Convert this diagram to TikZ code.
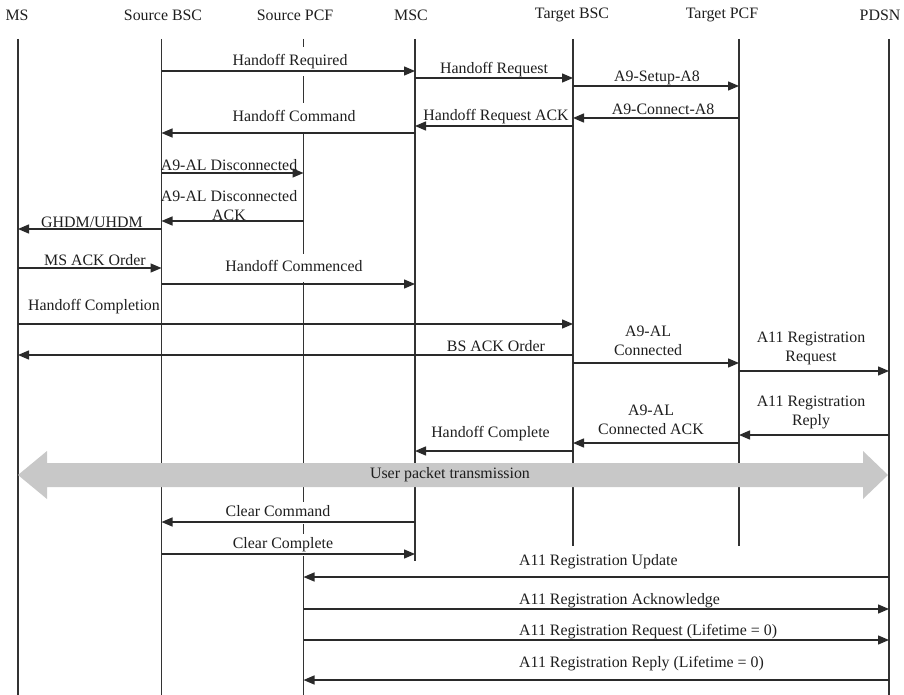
\documentclass[tikz,border=0pt]{standalone}
\usepackage{fontspec}
\setmainfont{Liberation Serif}
\usetikzlibrary{arrows.meta,calc}
\definecolor{lifegray}{HTML}{333333}
\definecolor{linegray}{HTML}{2A2A2A}
\definecolor{textgray}{HTML}{1E1E1E}
\definecolor{bandgray}{HTML}{C8C8C8}

% one message: name, label style, from, to, arrow y, label x, label y, text
\newcommand\seqmsg[8]{%
  \node[#2] (#1) at (#6,#7) {#8};
  \draw[msg] (#3 |- 0,#5) -- (#4 |- 0,#5);
}

\begin{document}
\begin{tikzpicture}[x=1pt,y=-1pt,
  font=\fontsize{15.9}{18.8}\selectfont,
  life/.style={draw=lifegray, line width=1.4pt},
  msg/.style={draw=linegray, line width=1.4pt, -{Triangle[length=11pt,width=9pt]}},
  lbl/.style={text=textgray, inner sep=1pt, align=center},
  lblw/.style={lbl, fill=white, inner xsep=2pt, text height=11pt, text depth=3.5pt, inner ysep=7pt},
  head/.style={text=textgray, inner sep=0pt},
]
\useasboundingbox (0,0) rectangle (904,695);

% entity headers
\node[head] (h-ms)   at (17,15)  {MS};
\node[head] (h-sbsc) at (163,15) {Source BSC};
\node[head] (h-spcf) at (295,15) {Source PCF};
\node[head] (h-msc)  at (411,15) {MSC};
\node[head] (h-tbsc) at (572,15) {Target BSC};
\node[head] (h-tpcf) at (722,15) {Target PCF};
\node[head] (h-pdsn) at (880,15) {PDSN};

% lifelines
\foreach \n/\x/\e in {ms/18/695, sbsc/161.5/695, spcf/303.5/695, msc/415/561,
                      tbsc/573/546, tpcf/739/546, pdsn/889/695} {
  \coordinate (\n) at (\x,39);
  \coordinate (\n-end) at (\x,\e);
  \draw[life] (\n) -- (\n-end);
}

% user traffic band
\coordinate (bandL) at (18,475);
\coordinate (bandR) at (888,475);
\fill[bandgray] (bandL) -- ++(29,-24) -- ++(0,12) -- ($(bandR)+(-25,-12)$)
  -- ++(0,-12) -- (bandR) -- ++(-25,24) -- ++(0,-12) -- ($(bandL)+(29,12)$)
  -- ++(0,12) -- cycle;
\node[lbl] (band) at (450,475) {User packet transmission};

% signalling
\seqmsg{m1}{lblw}{sbsc}{msc}{71}{290}{61.5}{Handoff Required}
\seqmsg{m2}{lbl}{msc}{tbsc}{78}{494}{70}{Handoff Request}
\seqmsg{m3}{lbl}{tbsc}{tpcf}{86}{657}{77.5}{A9-Setup-A8}
\seqmsg{m4}{lbl}{tpcf}{tbsc}{118}{663}{109}{A9-Connect-A8}
\seqmsg{m5}{lbl}{tbsc}{msc}{126}{496}{117}{Handoff Request ACK}
\seqmsg{m6}{lblw}{msc}{sbsc}{133}{294}{117.5}{Handoff Command}
\seqmsg{m7}{lbl}{sbsc}{spcf}{173}{229}{165}{A9-AL Disconnected}
\seqmsg{m8}{lbl}{spcf}{sbsc}{221}{229}{205.5}{A9-AL Disconnected\\ACK}
\seqmsg{m9}{lbl}{sbsc}{ms}{229}{92}{222}{GHDM/UHDM}
\seqmsg{m10}{lbl}{ms}{sbsc}{268}{95}{260}{MS ACK Order}
\seqmsg{m11}{lblw}{sbsc}{msc}{284}{294}{268}{Handoff Commenced}
\seqmsg{m12}{lbl}{ms}{tbsc}{324}{94}{307}{Handoff Completion}
\seqmsg{m13}{lbl}{tbsc}{ms}{355}{496}{346}{BS ACK Order}
\seqmsg{m14}{lbl}{tbsc}{tpcf}{363}{648}{341}{A9-AL\\Connected}
\seqmsg{m15}{lbl}{tpcf}{pdsn}{371}{811}{348.5}{A11 Registration\\Request}
\seqmsg{m16}{lbl}{pdsn}{tpcf}{435}{811}{412.5}{A11 Registration\\Reply}
\seqmsg{m17}{lbl}{tpcf}{tbsc}{443}{651}{420}{A9-AL\\Connected ACK}
\seqmsg{m18}{lbl}{tbsc}{msc}{451}{490.5}{434}{Handoff Complete}
\seqmsg{m19}{lblw,inner ysep=4pt}{msc}{sbsc}{522}{278}{513}{Clear Command}
\seqmsg{m20}{lblw,inner ysep=4pt}{sbsc}{msc}{554}{283}{545}{Clear Complete}
\seqmsg{m21}{lbl,anchor=west}{pdsn}{spcf}{577}{518}{562}{A11 Registration Update}
\seqmsg{m22}{lbl,anchor=west}{spcf}{pdsn}{609}{518}{601}{A11 Registration Acknowledge}
\seqmsg{m23}{lbl,anchor=west}{spcf}{pdsn}{640}{518}{632}{A11 Registration Request (Lifetime = 0)}
\seqmsg{m24}{lbl,anchor=west}{pdsn}{spcf}{680}{518}{664}{A11 Registration Reply (Lifetime = 0)}
\end{tikzpicture}
\end{document}
